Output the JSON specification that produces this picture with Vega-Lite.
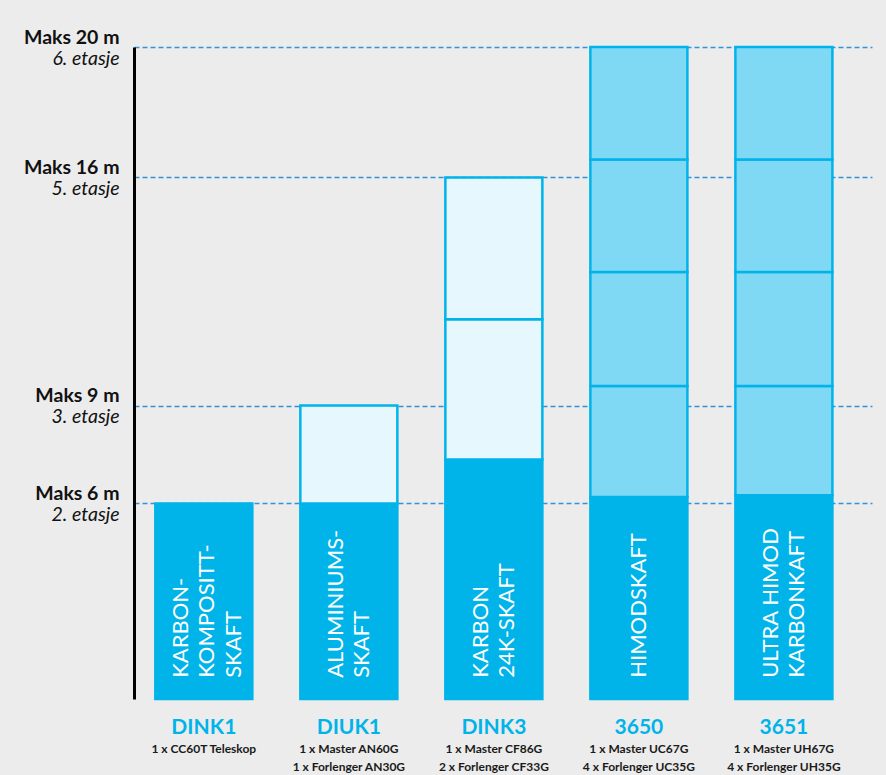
{
  "$schema": "https://vega.github.io/schema/vega-lite/v6.json",
  "width": 738,
  "height": 652,
  "autosize": {"type": "none"},
  "padding": {"left": 134, "top": 47, "right": 14, "bottom": 76},
  "background": "#ececec",
  "config": {"view": {"stroke": null}, "font": "Lato"},
  "datasets": {
    "segments": [
      {"bar": "DINK1", "kind": "base", "start": 0, "end": 6},
      {"bar": "DIUK1", "kind": "base", "start": 0, "end": 6},
      {"bar": "DIUK1", "kind": "light", "start": 6, "end": 9},
      {"bar": "DINK3", "kind": "base", "start": 0, "end": 7.35},
      {"bar": "DINK3", "kind": "light", "start": 7.35, "end": 11.65},
      {"bar": "DINK3", "kind": "light", "start": 11.65, "end": 16},
      {"bar": "3650", "kind": "base", "start": 0, "end": 6.2},
      {"bar": "3650", "kind": "mid", "start": 6.2, "end": 9.6},
      {"bar": "3650", "kind": "mid", "start": 9.6, "end": 13.1},
      {"bar": "3650", "kind": "mid", "start": 13.1, "end": 16.55},
      {"bar": "3650", "kind": "mid", "start": 16.55, "end": 20},
      {"bar": "3651", "kind": "base", "start": 0, "end": 6.25},
      {"bar": "3651", "kind": "mid", "start": 6.25, "end": 9.6},
      {"bar": "3651", "kind": "mid", "start": 9.6, "end": 13.1},
      {"bar": "3651", "kind": "mid", "start": 13.1, "end": 16.55},
      {"bar": "3651", "kind": "mid", "start": 16.55, "end": 20}
    ],
    "poles": [
      {"bar": "DINK1", "desc": "1 x CC60T Teleskop", "shaft": "KARBON-|KOMPOSITT-|SKAFT"},
      {"bar": "DIUK1", "desc": "1 x Master AN60G|1 x Forlenger AN30G", "shaft": "ALUMINIUMS-|SKAFT"},
      {"bar": "DINK3", "desc": "1 x Master CF86G|2 x Forlenger CF33G", "shaft": "KARBON|24K-SKAFT"},
      {"bar": "3650", "desc": "1 x Master UC67G|4 x Forlenger UC35G", "shaft": "HIMODSKAFT"},
      {"bar": "3651", "desc": "1 x Master UH67G|4 x Forlenger UH35G", "shaft": "ULTRA HIMOD|KARBONKAFT"}
    ]
  },
  "layer": [
    {
      "data": {"name": "segments"},
      "mark": {"type": "bar", "stroke": "#00b4ea", "strokeWidth": 2.5},
      "encoding": {
        "x": {
          "field": "bar",
          "type": "nominal",
          "sort": ["DINK1", "DIUK1", "DINK3", "3650", "3651"],
          "scale": {"paddingInner": 0.331, "paddingOuter": 0.21, "align": 0.35},
          "axis": {
            "title": null,
            "labels": false,
            "ticks": false,
            "domainColor": "#000000",
            "domainWidth": 3
          }
        },
        "y": {
          "field": "start",
          "type": "quantitative",
          "scale": {"domain": [0, 20], "nice": false},
          "axis": {
            "orient": "left",
            "title": null,
            "values": [6, 9, 16, 20],
            "domainColor": "#000000",
            "domainWidth": 3,
            "ticks": false,
            "tickSize": 0,
            "labelPadding": 15,
            "labelFont": "Lato",
            "labelFontSize": 19.5,
            "labelFontWeight": "bold",
            "labelColor": "#111111",
            "labelBaseline": "alphabetic",
            "labelOffset": -4,
            "labelFlush": false,
            "labelOverlap": false,
            "labelExpr": "'Maks ' + datum.value + ' m'",
            "grid": true,
            "gridColor": "#2f93dc",
            "gridDash": [5, 3],
            "gridWidth": 1.5
          }
        },
        "y2": {"field": "end"},
        "fill": {
          "field": "kind",
          "type": "nominal",
          "scale": {"domain": ["base", "light", "mid"], "range": ["#00b4ea", "#e6f7fd", "#80d9f4"]},
          "legend": null
        }
      }
    },
    {
      "data": {"name": "poles"},
      "transform": [{"filter": {"field": "bar", "oneOf": ["DINK1"]}}],
      "mark": {
        "type": "text",
        "angle": 270,
        "align": "left",
        "baseline": "middle",
        "lineBreak": "|",
        "lineHeight": 26.5,
        "fontSize": 22,
        "font": "Lato",
        "color": "#ffffff",
        "dy": -23
      },
      "encoding": {
        "x": {"field": "bar", "type": "nominal", "sort": ["DINK1", "DIUK1", "DINK3", "3650", "3651"], "axis": null},
        "y": {
          "datum": 0.65,
          "type": "quantitative",
          "axis": {
            "orient": "left",
            "title": null,
            "values": [6, 9, 16, 20],
            "domain": false,
            "ticks": false,
            "tickSize": 0,
            "grid": false,
            "labelPadding": 15,
            "labelFont": "Lato",
            "labelFontSize": 19.5,
            "labelFontStyle": "italic",
            "labelColor": "#111111",
            "labelBaseline": "alphabetic",
            "labelOffset": 17,
            "labelFlush": false,
            "labelOverlap": false,
            "labelExpr": "datum.value == 6 ? '2. etasje' : datum.value == 9 ? '3. etasje' : datum.value == 16 ? '5. etasje' : '6. etasje'"
          }
        },
        "text": {"field": "shaft"}
      }
    },
    {
      "data": {"name": "poles"},
      "transform": [{"filter": {"field": "bar", "oneOf": ["DIUK1", "DINK3", "3651"]}}],
      "mark": {
        "type": "text",
        "angle": 270,
        "align": "left",
        "baseline": "middle",
        "lineBreak": "|",
        "lineHeight": 26.5,
        "fontSize": 22,
        "font": "Lato",
        "color": "#ffffff",
        "dy": -13
      },
      "encoding": {
        "x": {"field": "bar", "type": "nominal", "sort": ["DINK1", "DIUK1", "DINK3", "3650", "3651"], "axis": null},
        "y": {"datum": 0.65, "type": "quantitative", "axis": null},
        "text": {"field": "shaft"}
      }
    },
    {
      "data": {"name": "poles"},
      "transform": [{"filter": {"field": "bar", "oneOf": ["3650"]}}],
      "mark": {
        "type": "text",
        "angle": 270,
        "align": "left",
        "baseline": "middle",
        "fontSize": 22,
        "font": "Lato",
        "color": "#ffffff"
      },
      "encoding": {
        "x": {"field": "bar", "type": "nominal", "sort": ["DINK1", "DIUK1", "DINK3", "3650", "3651"], "axis": null},
        "y": {"datum": 0.65, "type": "quantitative", "axis": null},
        "text": {"field": "shaft"}
      }
    },
    {
      "data": {"name": "poles"},
      "mark": {
        "type": "text",
        "align": "center",
        "baseline": "middle",
        "fontSize": 21,
        "fontWeight": "bold",
        "font": "Lato",
        "color": "#00b4ea",
        "dy": 29
      },
      "encoding": {
        "x": {"field": "bar", "type": "nominal", "sort": ["DINK1", "DIUK1", "DINK3", "3650", "3651"], "axis": null},
        "y": {"datum": 0, "type": "quantitative", "axis": null},
        "text": {"field": "bar"}
      }
    },
    {
      "data": {"name": "poles"},
      "mark": {
        "type": "text",
        "align": "center",
        "baseline": "alphabetic",
        "lineBreak": "|",
        "lineHeight": 18,
        "fontSize": 12,
        "fontWeight": "bold",
        "font": "Lato",
        "color": "#1a1a1a",
        "dy": 54
      },
      "encoding": {
        "x": {"field": "bar", "type": "nominal", "sort": ["DINK1", "DIUK1", "DINK3", "3650", "3651"], "axis": null},
        "y": {"datum": 0, "type": "quantitative", "axis": null},
        "text": {"field": "desc"}
      }
    }
  ],
  "resolve": {"axis": {"y": "independent"}}
}
